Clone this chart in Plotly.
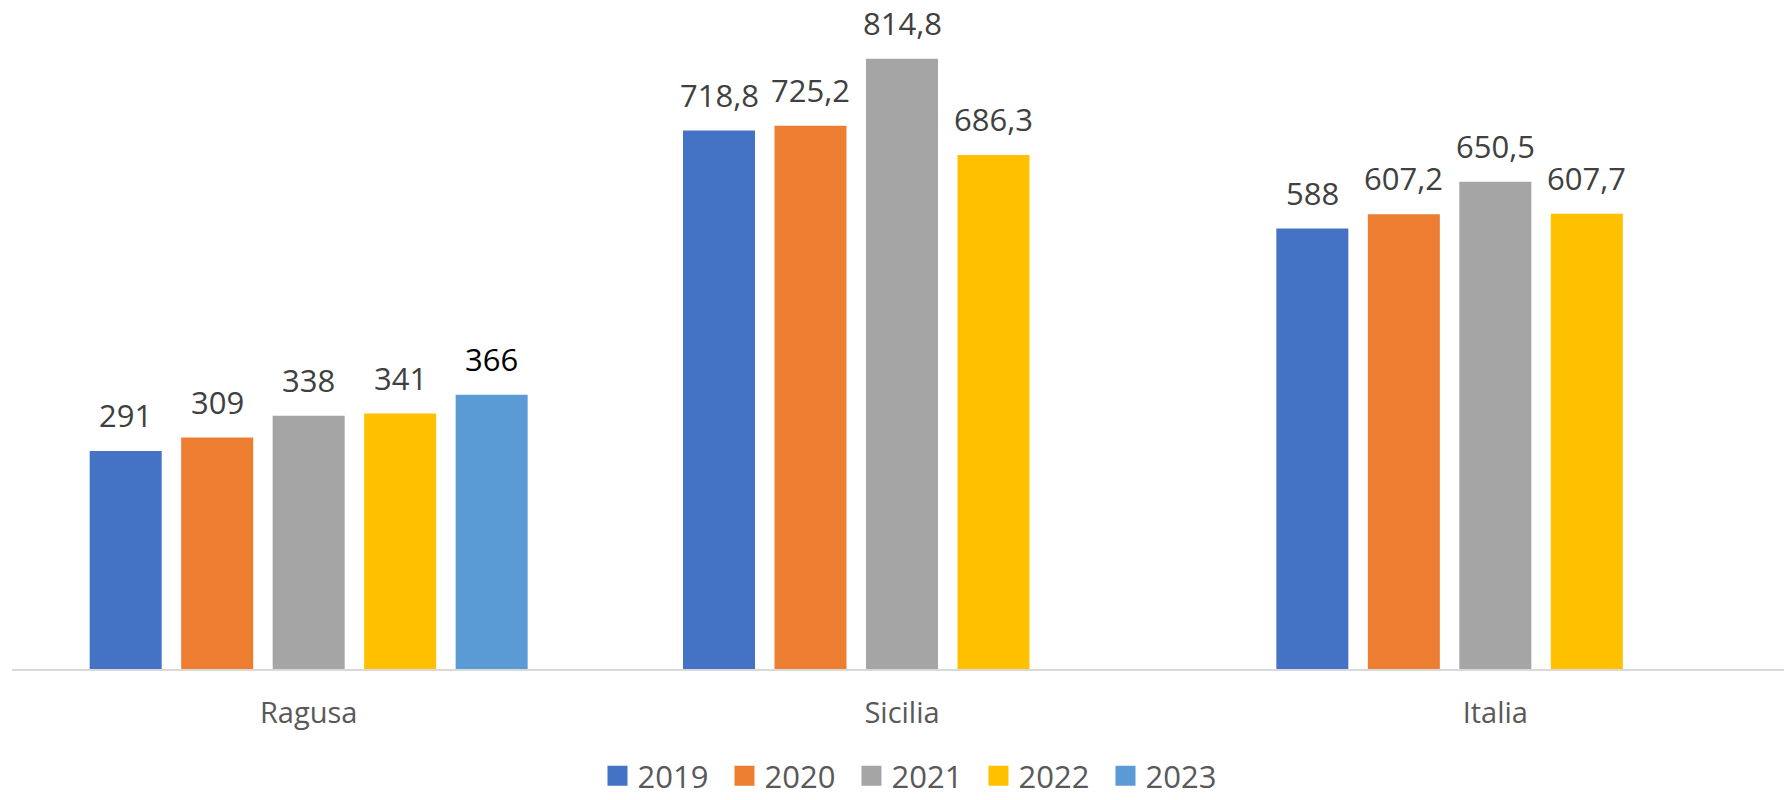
import plotly.graph_objects as go

categories = ["Ragusa", "Sicilia", "Italia"]
years = ["2019", "2020", "2021", "2022", "2023"]
v2019 = [291, 718.8, 588]
v2020 = [309, 725.2, 607.2]
v2021 = [338, 814.8, 650.5]
v2022 = [341, 686.3, 607.7]
v2023 = [366, None, None]
series = [v2019, v2020, v2021, v2022, v2023]
colors = ["#4472C4", "#ED7D31", "#A5A5A5", "#FFC000", "#5B9BD5"]
label_colors = ["#404040", "#404040", "#404040", "#404040", "#000000"]

W, H = 1784, 792
ML, MR, MT, MB = 4, 0, 12, 131
BARGAP = 0.229
GROUPGAP = 0.213


def fmt(v):
    s = str(int(v)) if float(v).is_integer() else str(v)
    return s.replace(".", ",")


fig = go.Figure()
for name, vals, col in zip(years, series, colors):
    fig.add_trace(go.Bar(
        name=name, x=categories, y=vals, showlegend=False,
        marker=dict(color=col, line=dict(width=0)),
        hoverinfo="skip",
    ))
# legend entries (square swatches)
for name, col in zip(years, colors):
    fig.add_trace(go.Scatter(
        name=name, x=[None], y=[None], mode="markers", showlegend=True,
        marker=dict(symbol="square", size=16, color=col, line=dict(color=col, width=4)),
        hoverinfo="skip",
    ))

plot_w = W - ML - MR
cat_w = plot_w / len(categories)
slot_w = cat_w * (1 - BARGAP) / len(years)
n = len(years)
for i, (vals, lcol) in enumerate(zip(series, label_colors)):
    for cat, v in zip(categories, vals):
        if v is None:
            continue
        fig.add_annotation(
            x=cat, y=v, xref="x", yref="y", text=fmt(v), showarrow=False,
            xanchor="center", yanchor="bottom",
            xshift=(i - (n - 1) / 2) * slot_w, yshift=13,
            font=dict(family="Open Sans", size=31, color=lcol),
        )

fig.update_layout(
    width=W, height=H,
    barmode="group", bargap=BARGAP, bargroupgap=GROUPGAP,
    plot_bgcolor="white", paper_bgcolor="white",
    margin=dict(l=ML, r=MR, t=MT, b=MB, autoexpand=False),
    font=dict(family="Open Sans", color="#595959"),
    xaxis=dict(showline=True, linecolor="#D9D9D9", linewidth=2, ticks="",
               tickfont=dict(size=29, color="#595959"), ticklabelstandoff=17,
               automargin=False),
    yaxis=dict(visible=False, range=[0, 649 / 0.749]),
    legend=dict(orientation="h", x=0.5073, xanchor="center", y=-0.165,
                yanchor="middle", font=dict(size=31, color="#595959"),
                entrywidth=82, traceorder="normal"),
    showlegend=True,
)

fig.write_html("out.html")
